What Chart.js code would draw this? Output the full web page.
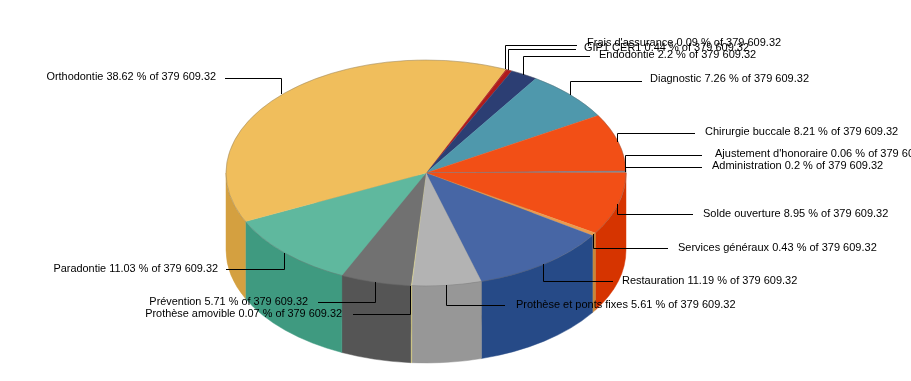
<!DOCTYPE html>
<html>
<head>
<meta charset="utf-8">
<title>Répartition</title>
<script src="https://cdn.jsdelivr.net/npm/chart.js@4"></script>
<style>
  html, body { margin: 0; background: #fff; overflow: hidden; }
  canvas { display: block; }
</style>
</head>
<body>
<canvas id="pie" width="911" height="381"></canvas>
<script>
const categories = ["Frais d'assurance", "GIP1 CER1", "Endodontie", "Diagnostic", "Chirurgie buccale", "Ajustement d'honoraire", "Administration", "Solde ouverture", "Services généraux", "Restauration", "Prothèse et ponts fixes", "Prothèse amovible", "Prévention", "Paradontie", "Orthodontie"];
const shares = [0.09, 0.44, 2.2, 7.26, 8.21, 0.06, 0.2, 8.95, 0.43, 11.19, 5.61, 0.07, 5.71, 11.03, 38.62];
const totalText = "379 609.32";

const topColors = ["#a82a20", "#b01c1c", "#2c3e73", "#4f98ac", "#f24f16", "#6a78a0", "#808080", "#f24f16", "#e79b50", "#4766a5", "#b3b3b3", "#f0e7a0", "#717171", "#5fb89e", "#f0be5c"];
const sideColors = ["#8a2018", "#8c1616", "#223059", "#3d7686", "#d63400", "#525c7c", "#636363", "#d63400", "#c8883a", "#264a87", "#979797", "#e8dc88", "#555555", "#3f9a80", "#d4a040"];

// Where each label's leader ends: elbow height, end of the line, text position
const elbowY = [45, 49, 56, 81, 133, 155, 167, 214, 248, 281, 305, 314, 302, 269, 78];
const lineEndX = [577, 576, 590, 642, 695, 702, 702, 693, 668, 613, 505, 353, 318, 226, 225];
const textX = [587, 584, 599, 650, 705, 715, 712, 703, 678, 622, 516, 342, 308, 218, 216];
const textY = [44, 49, 56, 80, 133, 155, 167, 215, 249, 282, 306, 315, 303, 270, 78];
const textAlign = ["left", "left", "left", "left", "left", "left", "left", "left", "left", "left", "left", "right", "right", "right", "right"];

const flatten = 113 / 200; // height of the ellipse against its width
const depth = 77;

function squash(ctx, arc) {
  ctx.translate(0, arc.y);
  ctx.scale(1, flatten);
  ctx.translate(0, -arc.y);
}

// Walls and ground shadow, drawn under the pie; the pie itself gets squashed
const tiltPlugin = {
  id: "tilt",
  beforeDatasetsDraw(chart) {
    const ctx = chart.ctx;
    const arcs = chart.getDatasetMeta(0).data;
    const first = arcs[0];
    const drop = depth / flatten;

    ctx.save();
    squash(ctx, first);
    ctx.save();
    ctx.shadowColor = "rgba(0,0,0,0.8)";
    ctx.shadowBlur = 9;
    ctx.shadowOffsetY = 7;
    ctx.fillStyle = "#777";
    ctx.beginPath();
    ctx.arc(first.x - 8, first.y + drop, first.outerRadius * 0.66, 0, Math.PI * 2);
    ctx.fill();
    ctx.restore();

    arcs.forEach((arc, i) => {
      const from = Math.max(arc.startAngle, 0);
      const to = Math.min(arc.endAngle, Math.PI);
      if (to <= from) return;
      ctx.fillStyle = sideColors[i];
      ctx.strokeStyle = sideColors[i];
      ctx.lineWidth = 0.6;
      ctx.beginPath();
      ctx.arc(arc.x, arc.y, arc.outerRadius, from, to);
      ctx.arc(arc.x, arc.y + drop, arc.outerRadius, to, from, true);
      ctx.closePath();
      ctx.fill();
      ctx.stroke();
    });
    ctx.restore();

    ctx.save();
    squash(ctx, first);
  },
  afterDatasetsDraw(chart) {
    const ctx = chart.ctx;
    const arcs = chart.getDatasetMeta(0).data;
    const first = arcs[0];

    // thin grey rim round the top
    ctx.strokeStyle = "rgba(90,90,90,0.4)";
    ctx.lineWidth = 1;
    ctx.beginPath();
    ctx.arc(first.x, first.y, first.outerRadius, 0, Math.PI * 2);
    ctx.stroke();
    ctx.restore();

    // leaders and labels
    ctx.save();
    ctx.textBaseline = "middle";
    arcs.forEach((arc, i) => {
      const mid = (arc.startAngle + arc.endAngle) / 2;
      const ax = arc.x + arc.outerRadius * Math.cos(mid);
      const ay = arc.y + arc.outerRadius * flatten * Math.sin(mid);
      ctx.strokeStyle = "#000";
      ctx.lineWidth = 1;
      ctx.beginPath();
      ctx.moveTo(Math.round(ax) - 0.5, Math.round(ay));
      ctx.lineTo(Math.round(ax) - 0.5, elbowY[i] + 0.5);
      ctx.lineTo(lineEndX[i], elbowY[i] + 0.5);
      ctx.stroke();
      ctx.fillStyle = "#000";
      ctx.textAlign = textAlign[i];
      ctx.font = (textAlign[i] === "left" ? "11px" : "10.9px") + " 'Liberation Sans', Arial, sans-serif";
      ctx.fillText(categories[i] + " " + shares[i] + " % of " + totalText, textX[i], textY[i] - 1);
    });
    ctx.restore();
  }
};

new Chart(document.getElementById("pie"), {
  type: "pie",
  data: {
    labels: categories,
    datasets: [{
      data: shares,
      backgroundColor: topColors,
      borderColor: topColors,
      borderWidth: 0.5,
      clip: false
    }]
  },
  options: {
    responsive: false,
    animation: false,
    radius: 200,
    rotation: 23.5,
    layout: { padding: { right: 59, bottom: 35 } },
    plugins: {
      legend: { display: false },
      tooltip: { enabled: false }
    }
  },
  plugins: [tiltPlugin]
});
</script>
</body>
</html>
